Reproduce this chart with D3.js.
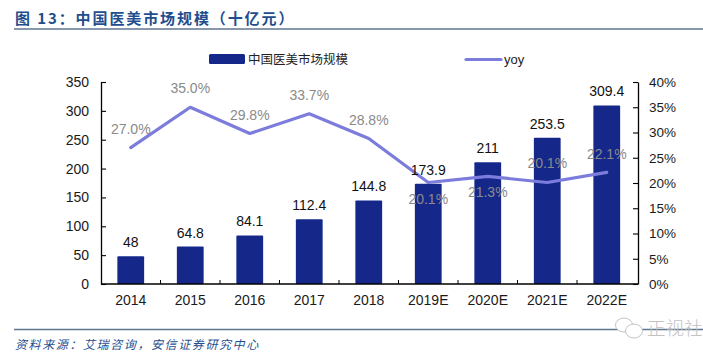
<!DOCTYPE html>
<html>
<head>
<meta charset="utf-8">
<script src="https://cdn.jsdelivr.net/npm/d3@7"></script>
<style>
  html, body { margin: 0; padding: 0; background: #fff; }
  svg { display: block; }
  text { font-family: "Liberation Sans", Arial, sans-serif; }
  .cjk { font-family: "Noto Sans CJK SC", sans-serif; }
</style>
</head>
<body>
<svg width="703" height="353"></svg>
<script>
const categories = ['2014', '2015', '2016', '2017', '2018', '2019E', '2020E', '2021E', '2022E'];
const marketSize = [48, 64.8, 84.1, 112.4, 144.8, 173.9, 211, 253.5, 309.4];
const yoy = [27.0, 35.0, 29.8, 33.7, 28.8, 20.1, 21.3, 20.1, 22.1];
const sizeLabels = ['48', '64.8', '84.1', '112.4', '144.8', '173.9', '211', '253.5', '309.4'];
const leftTicks = [0, 50, 100, 150, 200, 250, 300, 350];
const rightTicks = [0, 5, 10, 15, 20, 25, 30, 35, 40];
// yoy labels sit above the line up to 2018, then move around the bars
const yoyLabelOffset = [-14, -14, -14, -14, -14, 22, 21, -14, -13];

const svg = d3.select('svg');

const plotLeft = 101, plotRight = 638, plotTop = 82, plotBottom = 284;
const navy = '#15288a', lineColor = '#7c7cdc', labelGrey = '#8a8a8a', titleBlue = '#1f4e8f', ruleColor = '#5f7690';

const x = d3.scaleBand().domain(categories).range([plotLeft, plotRight - 1.5]).paddingInner(0.55).paddingOuter(0.275);
const yLeft = d3.scaleLinear().domain([0, 350]).range([plotBottom, plotTop]);
const yRight = d3.scaleLinear().domain([0, 40]).range([plotBottom, plotTop]);

// title and rules
svg.append('text').attr('class', 'cjk')
  .attr('x', 15).attr('y', 24)
  .attr('font-size', 15).attr('font-weight', 700).attr('fill', titleBlue)
  .attr('letter-spacing', 1.9)
  .text('图 13：中国医美市场规模（十亿元）');
svg.append('line').attr('x1', 14).attr('x2', 703).attr('y1', 29).attr('y2', 29)
  .attr('stroke', ruleColor).attr('stroke-width', 1.5);
svg.append('line').attr('x1', 14).attr('x2', 703).attr('y1', 329.5).attr('y2', 329.5)
  .attr('stroke', ruleColor).attr('stroke-width', 1.5);
svg.append('text').attr('class', 'cjk')
  .attr('x', 15).attr('y', 349)
  .attr('font-size', 12).attr('font-style', 'italic').attr('fill', titleBlue)
  .attr('letter-spacing', 1.6)
  .text('资料来源：艾瑞咨询，安信证券研究中心');

// bars
svg.selectAll('rect.bar').data(marketSize).enter().append('rect')
  .attr('class', 'bar')
  .attr('x', (d, i) => x(categories[i]))
  .attr('width', x.bandwidth())
  .attr('y', d => yLeft(d))
  .attr('height', d => plotBottom - yLeft(d))
  .attr('rx', 1)
  .attr('fill', navy);

// axes
const axisLeft = d3.axisLeft(yLeft).tickValues(leftTicks).tickSize(5).tickPadding(7);
const axisRight = d3.axisRight(yRight).tickValues(rightTicks).tickFormat(d => d + '%').tickSize(5).tickPadding(6);
const axisBottom = d3.axisBottom(x).tickSize(0).tickPadding(11);

function styleAxis(g) {
  g.select('.domain').attr('stroke', '#000').attr('stroke-width', 1.3);
  g.selectAll('.tick line').attr('stroke', '#000').attr('stroke-width', 1.1);
  g.selectAll('text').attr('font-size', 14).attr('fill', '#1a1a1a')
    .style('font-family', '"Liberation Sans", Arial, sans-serif');
}

// ticks on the left axis point inward
const gLeft = svg.append('g').attr('transform', `translate(${plotLeft},0)`).call(axisLeft.tickSizeOuter(0)).call(styleAxis);
gLeft.selectAll('.tick line').attr('x2', 5);
const gRight = svg.append('g').attr('transform', `translate(${plotRight},0)`).call(axisRight.tickSizeOuter(0)).call(styleAxis);
gRight.selectAll('.tick line').attr('x2', -5);
gRight.selectAll('.tick text').attr('font-size', 13.5);
const gBottom = svg.append('g').attr('transform', `translate(0,${plotBottom})`).call(axisBottom.tickSizeOuter(0)).call(styleAxis);
gBottom.select('.domain').attr('d', `M${plotLeft},0H${plotRight}`);

// small inward ticks between categories
svg.selectAll('line.sep').data(categories.slice(1)).enter().append('line')
  .attr('class', 'sep')
  .attr('x1', d => x(d) - x.step() * x.paddingInner() / 2)
  .attr('x2', d => x(d) - x.step() * x.paddingInner() / 2)
  .attr('y1', plotBottom).attr('y2', plotBottom - 4)
  .attr('stroke', '#000').attr('stroke-width', 1);

// yoy line
const line = d3.line()
  .x((d, i) => x(categories[i]) + x.bandwidth() / 2)
  .y(d => yRight(d));
svg.append('path').datum(yoy)
  .attr('d', line)
  .attr('fill', 'none').attr('stroke', lineColor).attr('stroke-width', 3.2)
  .attr('stroke-linejoin', 'round').attr('stroke-linecap', 'round');

// bar value labels
svg.selectAll('text.size').data(sizeLabels).enter().append('text')
  .attr('class', 'size')
  .attr('x', (d, i) => x(categories[i]) + x.bandwidth() / 2)
  .attr('y', (d, i) => yLeft(marketSize[i]) - 9)
  .attr('text-anchor', 'middle').attr('font-size', 14).attr('fill', '#111')
  .text(d => d);

// yoy labels
svg.selectAll('text.yoy').data(yoy).enter().append('text')
  .attr('class', 'yoy')
  .attr('x', (d, i) => x(categories[i]) + x.bandwidth() / 2)
  .attr('y', (d, i) => yRight(d) + yoyLabelOffset[i])
  .attr('text-anchor', 'middle').attr('font-size', 14).attr('fill', labelGrey)
  .text(d => d.toFixed(1) + '%');

// legend
svg.append('rect').attr('x', 209).attr('y', 54).attr('width', 36).attr('height', 10).attr('rx', 1.5).attr('fill', navy);
svg.append('text').attr('class', 'cjk').attr('x', 248).attr('y', 64)
  .attr('font-size', 12.5).attr('fill', '#222').text('中国医美市场规模');
svg.append('line').attr('x1', 466).attr('x2', 501).attr('y1', 59.5).attr('y2', 59.5)
  .attr('stroke', lineColor).attr('stroke-width', 3.2).attr('stroke-linecap', 'round');
svg.append('text').attr('x', 504).attr('y', 64)
  .attr('font-size', 13).attr('fill', '#222').text('yoy');

// watermark
const mark = svg.append('g').attr('fill', '#fff').attr('stroke', '#c4c4c4').attr('stroke-width', 1);
mark.append('ellipse').attr('cx', 624).attr('cy', 325).attr('rx', 8.5).attr('ry', 7);
mark.append('ellipse').attr('cx', 634).attr('cy', 331).attr('rx', 8.5).attr('ry', 7);
svg.append('text').attr('class', 'cjk').attr('x', 647).attr('y', 335)
  .attr('font-size', 18.5).attr('font-weight', 300).attr('fill', '#c2c2c2').text('正视社');
</script>
</body>
</html>
